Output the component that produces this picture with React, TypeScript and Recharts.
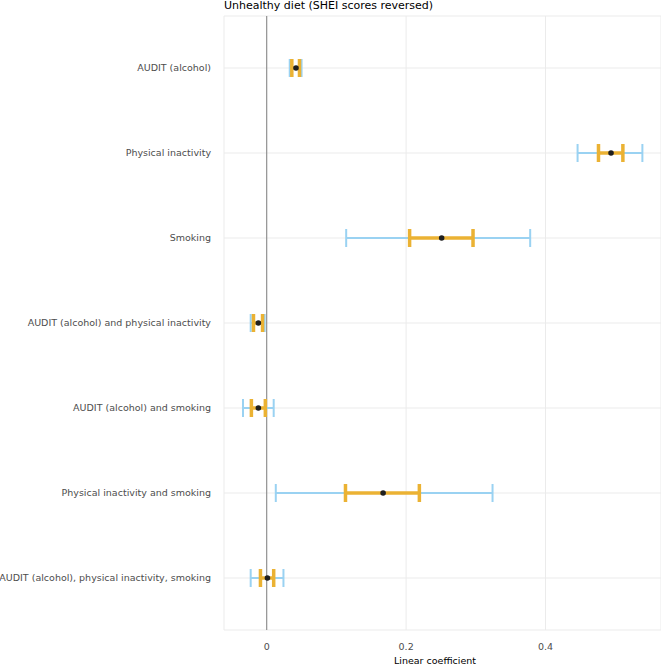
import React from "react";
import {
    ComposedChart,
    Line,
    ErrorBar,
    XAxis,
    YAxis,
    CartesianGrid,
    ReferenceLine,
    Label,
} from "recharts";

// Exposure combinations, top to bottom
const categories = [
    "AUDIT (alcohol)",
    "Physical inactivity",
    "Smoking",
    "AUDIT (alcohol) and physical inactivity",
    "AUDIT (alcohol) and smoking",
    "Physical inactivity and smoking",
    "AUDIT (alcohol), physical inactivity, smoking",
];

// Point estimates
const estimates = [0.042, 0.494, 0.251, -0.012, -0.012, 0.167, 0.001];
// Outer (wide, blue) interval
const outerLow = [0.033, 0.446, 0.114, -0.023, -0.034, 0.013, -0.023];
const outerHigh = [0.05, 0.539, 0.378, -0.003, 0.01, 0.324, 0.024];
// Inner (narrow, orange) interval
const innerLow = [0.036, 0.476, 0.205, -0.019, -0.022, 0.113, -0.009];
const innerHigh = [0.047, 0.511, 0.296, -0.006, -0.002, 0.219, 0.01];

const xTicks = [0, 0.2, 0.4];

const chartData = categories.map((name, i) => ({
    name,
    est: estimates[i],
    outerErr: [estimates[i] - outerLow[i], outerHigh[i] - estimates[i]],
    innerErr: [estimates[i] - innerLow[i], innerHigh[i] - estimates[i]],
}));

const FONT = "'DejaVu Sans', sans-serif";

// category labels on one line, right aligned (no wrapping)
const CategoryTick = (props: any) => {
    const { x, y, payload } = props;
    return (
        <text x={x} y={y} dy="0.355em" textAnchor="end" fill="#4d4d4d" fontSize={9.5} fontFamily={FONT}>
            {payload.value}
        </text>
    );
};

export default function App() {
    return (
        <div style={{ position: "absolute", left: 0, top: 0, width: 661, height: 664, background: "#fff", fontFamily: FONT }}>
            <div
                style={{
                    position: "absolute",
                    left: 224,
                    top: 0,
                    fontSize: 11,
                    lineHeight: "11px",
                    color: "#000",
                    whiteSpace: "nowrap",
                }}
            >
                Unhealthy diet (SHEI scores reversed)
            </div>
            <ComposedChart
                width={661}
                height={664}
                data={chartData}
                layout="vertical"
                margin={{ top: 16, right: 0, bottom: 0, left: 0 }}
                style={{ fontFamily: FONT }}
            >
                <CartesianGrid stroke="#ebebeb" strokeWidth={1} />
                <XAxis
                    type="number"
                    domain={[-0.0613, 0.5657]}
                    allowDataOverflow
                    ticks={xTicks}
                    tickFormatter={(v: number) => String(v)}
                    axisLine={false}
                    tickLine={false}
                    tickMargin={7}
                    height={34}
                    tick={{ fill: "#4d4d4d", fontSize: 9.5 }}
                >
                    <Label
                        value="Linear coefficient"
                        position="insideBottom"
                        offset={0.5}
                        dx={-7.5}
                        style={{ fill: "#000", fontSize: 9.5 }}
                    />
                </XAxis>
                <YAxis
                    type="category"
                    dataKey="name"
                    width={224}
                    padding={{ top: 52, bottom: 52 }}
                    axisLine={false}
                    tickLine={false}
                    tickMargin={7}
                    interval={0}
                    tick={<CategoryTick />}
                />
                <ReferenceLine x={0} stroke="#808080" strokeWidth={1} />
                <Line
                    dataKey="est"
                    stroke="none"
                    isAnimationActive={false}
                    activeDot={false}
                    dot={{ r: 2.8, fill: "#1f1f1f", stroke: "none" }}
                >
                    <ErrorBar dataKey="outerErr" direction="x" stroke="#9ad2f2" strokeWidth={2} width={9} />
                    <ErrorBar dataKey="innerErr" direction="x" stroke="#ebb233" strokeWidth={3.5} width={9} />
                </Line>
            </ComposedChart>
        </div>
    );
}
